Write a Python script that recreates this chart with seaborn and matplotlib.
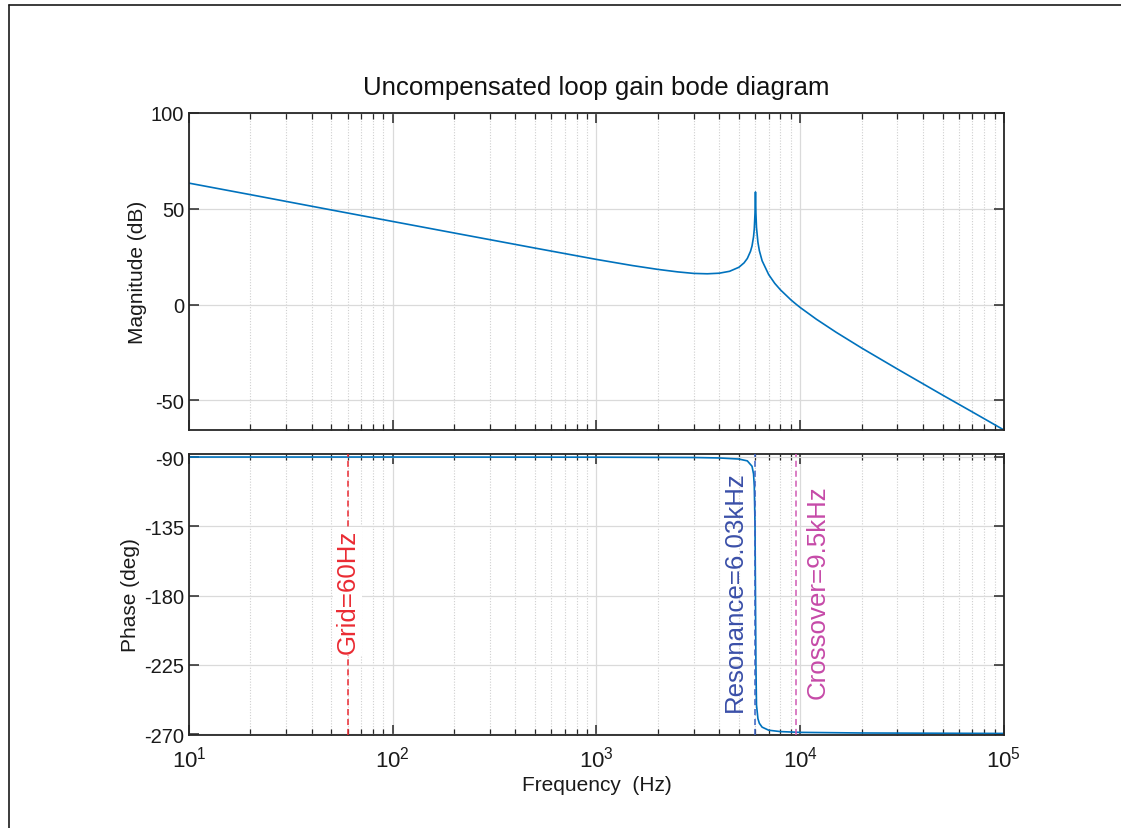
import numpy as np
import pandas as pd
import matplotlib
matplotlib.use("Agg")
import matplotlib.pyplot as plt
from matplotlib.lines import Line2D
from matplotlib.ticker import LogLocator, NullFormatter, FixedLocator
import seaborn as sns

# Loop gain magnitude (dB) vs frequency (Hz)
mag_freq = [10, 20, 50, 100, 200, 500, 1000, 1500, 2000, 2500, 3000, 3500, 4000,
            4500, 5000, 5300, 5500, 5700, 5800, 5900, 5950, 6000, 6015, 6030,
            6045, 6060, 6100, 6200, 6300, 6500, 7000, 7500, 8000, 9000, 9500,
            10000, 12000, 15000, 20000, 30000, 50000, 70000, 100000]
mag_db = [63.4, 57.4, 49.4, 43.4, 37.4, 29.5, 23.6, 20.4, 18.4, 17.1, 16.3, 16.1, 16.4,
          17.4, 19.5, 21.8, 24.1, 27.8, 30.6, 35.4, 39.5, 47.9, 53.9, 58.8,
          53.8, 47.8, 40.3, 32.5, 28.2, 22.9, 15.7, 11.1, 7.7, 2.5, 0.4,
          -1.5, -7.6, -14.4, -22.6, -33.6, -47.2, -56.0, -65.4]

# Loop gain phase (deg) vs frequency (Hz)
ph_freq = [10, 100, 1000, 3000, 4000, 5000, 5500, 5800, 5900, 5950, 6000, 6030,
           6060, 6100, 6200, 6300, 6500, 7000, 8000, 10000, 20000, 100000]
ph_deg = [-90.0, -90.0, -90.1, -90.3, -90.6, -91.3, -92.5, -96, -101, -109, -135, -180,
          -225, -251, -260, -263, -265.5, -267.5, -268.4, -268.9, -269.3, -269.6]

# Marker frequencies and their labels
marker_freqs = [60, 6030, 9500]
marker_labels = ["Grid=60Hz", "Resonance=6.03kHz", "Crossover=9.5kHz"]
marker_colors = ["#ea2b33", "#3a4fa8", "#c64aa8"]
marker_line_colors = ["#ea2b33", "#3a62c4", "#cf5ab4"]

mag_yticks = [-50, 0, 50, 100]
ph_yticks = [-270, -225, -180, -135, -90]

sns.set_theme(style="white")
plt.rcParams["font.family"] = ["Liberation Sans", "DejaVu Sans"]
plt.rcParams["mathtext.fontset"] = "custom"
plt.rcParams["mathtext.rm"] = "Liberation Sans"
plt.rcParams["mathtext.it"] = "Liberation Sans:italic"
plt.rcParams["axes.unicode_minus"] = False

AX_COLOR = "#262626"
GRID_COLOR = "#dadada"
LINE_COLOR = "#0072BD"
TXT = "#1a1a1a"

fig = plt.figure(figsize=(11.21, 8.29), dpi=100)
fig.patch.set_facecolor("white")
ax1 = fig.add_axes([0.1686, 0.4801, 0.7270, 0.3824])
ax2 = fig.add_axes([0.1686, 0.1122, 0.7270, 0.3390])

mag_df = pd.DataFrame({"f": mag_freq, "db": mag_db})
ph_df = pd.DataFrame({"f": ph_freq, "deg": ph_deg})

sns.lineplot(data=mag_df, x="f", y="db", ax=ax1, color=LINE_COLOR, linewidth=1.2,
             estimator=None, sort=False)
sns.lineplot(data=ph_df, x="f", y="deg", ax=ax2, color=LINE_COLOR, linewidth=1.2,
             estimator=None, sort=False)

for ax in (ax1, ax2):
    ax.set_xscale("log")
    ax.set_xlim(10, 1e5)
    ax.xaxis.set_major_locator(LogLocator(base=10, numticks=10))
    ax.xaxis.set_minor_locator(LogLocator(base=10, subs=np.arange(2, 10), numticks=50))
    ax.xaxis.set_minor_formatter(NullFormatter())
    ax.grid(True, which="major", axis="both", color=GRID_COLOR, linewidth=0.9, linestyle="-")
    ax.grid(True, which="minor", axis="x", color="#cfcfcf", linewidth=0.8, linestyle=(0, (1, 1.5)))
    ax.set_axisbelow(True)
    for sp in ax.spines.values():
        sp.set_color(AX_COLOR)
        sp.set_linewidth(1.3)
        sp.set_visible(True)
    ax.tick_params(which="both", direction="in", top=True, right=True, bottom=True, left=True,
                   color=AX_COLOR, labelcolor=TXT, labelsize=14.5)
    ax.tick_params(which="major", length=7, width=1.1)
    ax.tick_params(which="minor", length=4, width=0.9)
    ax.tick_params(axis="y", which="minor", left=False, right=False)

ax1.set_ylim(-65.4, 100)
ax1.yaxis.set_major_locator(FixedLocator(mag_yticks))
ax1.set_xlabel("")
ax1.tick_params(axis="x", labelbottom=False)
ax1.set_ylabel("Magnitude (dB)", fontsize=15, color=TXT, labelpad=3)
ax1.set_title("Uncompensated loop gain bode diagram", fontsize=18.6, color="#111111", pad=14)

ax2.set_ylim(-270.6, -88.0)
ax2.yaxis.set_major_locator(FixedLocator(ph_yticks))
ax2.set_ylabel("Phase (deg)", fontsize=15, color=TXT, labelpad=3)
ax2.set_xlabel("Frequency  (Hz)", fontsize=15, color=TXT, labelpad=2)
ax2.tick_params(axis="x", labelsize=16, pad=8)

# Vertical marker lines with inline labels
ymid = (-270.6 + -88.0) / 2
aligns = ["center", "right", "left"]
offsets = [0, -6, 7]
for f, lab, tc, lc, ha, dx in zip(marker_freqs, marker_labels, marker_colors,
                                   marker_line_colors, aligns, offsets):
    ax2.axvline(f, color=lc, linestyle=(0, (4, 2.5)), linewidth=1.1, zorder=3)
    t = ax2.annotate(lab, xy=(f, ymid), xytext=(dx, 2.5), textcoords="offset points",
                     rotation=90, ha=ha, va="center", color=tc, fontsize=18.6, zorder=4)
    if ha == "center":
        t.set_bbox(dict(facecolor="white", edgecolor="none", pad=1.5))

# Figure frame
fig.add_artist(Line2D([9 / 1121, 9 / 1121], [0, 1 - 6 / 829], transform=fig.transFigure,
                      color="#1a1a1a", linewidth=1.2))
fig.add_artist(Line2D([9 / 1121, 1], [1 - 6 / 829, 1 - 6 / 829], transform=fig.transFigure,
                      color="#1a1a1a", linewidth=1.2))

fig.savefig("out.png", dpi=100, facecolor="white")
